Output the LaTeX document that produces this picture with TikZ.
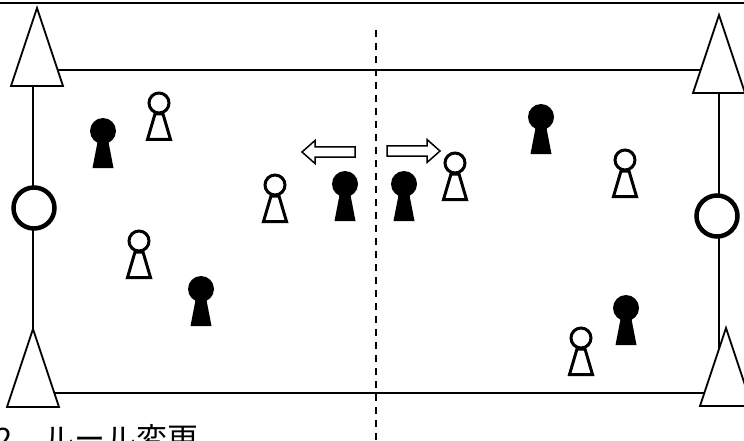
\documentclass[tikz,border=0pt]{standalone}
\usepackage{fontspec}
\newfontfamily\jpfont{Noto Sans CJK JP}
\usepackage{tikz}

\begin{document}
\begin{tikzpicture}[
    x=1pt,
    y=-1pt,
    field/.style={draw, line width=2pt},
    cone/.pic={\draw[line width=1.8pt, fill=white, line join=miter] (0,0) -- (26,78) -- (-26,78) -- cycle;},
    goal/.style={draw, circle, line width=4.5pt, fill=white, minimum size=41pt, inner sep=0pt},
    black player/.pic={
        \fill (-4.5,6) -- (4.5,6) -- (10.5,37) -- (-10.5,37) -- cycle;
        \fill (0,0) circle (13);},
    white player/.pic={
        \draw[line width=3pt, line join=miter] (-4,11) -- (4,11) -- (11.5,36.5) -- (-11.5,36.5) -- cycle;
        \draw[line width=3pt, fill=white] (0,0) circle (10);},
    move/.pic={\draw[line width=1.5pt, fill=white, line join=miter]
        (0,0) -- (-13,-11.5) -- (-13,-5) -- (-53,-5) -- (-53,5) -- (-13,5) -- (-13,11.5) -- cycle;}
  ]
    \useasboundingbox (0,0) rectangle (744,441);

    % -- frame line and half line --
    \draw[line width=2.5pt] (0,3) -- (744,3);
    \draw[line width=2pt, dash pattern=on 7pt off 6pt] (376,30) -- (376,445);

    % -- field --
    \draw[field] (33,70) rectangle (719,393);

    % -- goals --
    \node[goal] (goalL) at (34,208) {};
    \node[goal] (goalR) at (717,216) {};

    % -- cones --
    \pic (coneTL) at (37,8) {cone};
    \pic (coneTR) at (719,15) {cone};
    \pic (coneBL) at (33,329) {cone};
    \pic (coneBR) at (726,328) {cone};

    % -- players --
    \pic (b1) at (103,131) {black player};
    \pic (b2) at (345,184) {black player};
    \pic (b3) at (404,184) {black player};
    \pic (b4) at (541,117) {black player};
    \pic (b5) at (201,289) {black player};
    \pic (b6) at (626,308) {black player};

    \pic (w1) at (159,103) {white player};
    \pic (w2) at (275,185) {white player};
    \pic (w3) at (139,241) {white player};
    \pic (w4) at (455,163) {white player};
    \pic (w5) at (625,160) {white player};
    \pic (w6) at (581,338) {white player};

    % -- movement arrows --
    \pic[rotate=180] (moveL) at (302,152) {move};
    \pic (moveR) at (440,151) {move};

    % -- caption --
    \node[anchor=base west, inner sep=0pt, font=\jpfont\fontsize{31}{31}\selectfont] (caption) at (-5,450) {2　ルール変更};
  \end{tikzpicture}
\end{document}
